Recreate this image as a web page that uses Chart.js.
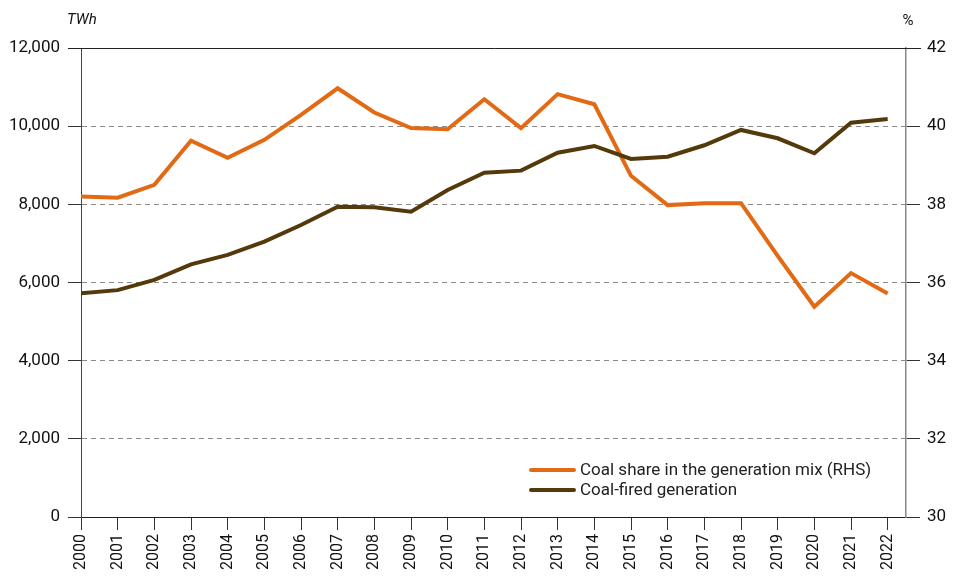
<!DOCTYPE html>
<html>
<head>
<meta charset="utf-8">
<script src="https://cdn.jsdelivr.net/npm/chart.js@4/dist/chart.umd.min.js"></script>
<style>
  html, body { margin: 0; padding: 0; background: #fff; }
  #wrap { position: relative; width: 963px; height: 580px; }
</style>
</head>
<body>
<div id="wrap"><canvas id="chart" width="963" height="580"></canvas></div>
<script>
const YEARS = [2000, 2001, 2002, 2003, 2004, 2005, 2006, 2007, 2008, 2009, 2010, 2011,
               2012, 2013, 2014, 2015, 2016, 2017, 2018, 2019, 2020, 2021, 2022];

// Coal share in the generation mix, % (right axis)
const COAL_SHARE = [38.2, 38.17, 38.5, 39.63, 39.19, 39.65, 40.29, 40.97, 40.35, 39.95, 39.92, 40.69,
                    39.95, 40.82, 40.56, 38.73, 37.98, 38.03, 38.03, 36.68, 35.38, 36.24, 35.72];

// Coal-fired generation, TWh (left axis)
const COAL_GEN = [5725, 5805, 6065, 6466, 6705, 7045, 7472, 7940, 7925, 7813, 8368, 8811,
                  8862, 9322, 9494, 9161, 9220, 9511, 9903, 9690, 9306, 10090, 10185];

const LEFT_TICKS = [0, 2000, 4000, 6000, 8000, 10000, 12000];
const RIGHT_TICKS = [30, 32, 34, 36, 38, 40, 42];

const ORANGE = '#E36A14';
const BROWN = '#543A0A';
const FONT = 'Roboto';

const toPoints = (vals) => vals.map((v, i) => ({ x: YEARS[i], y: v }));

// legend, unit labels and top frame line
const extrasPlugin = {
    id: 'extras',
    afterDraw(chart) {
        const ctx = chart.ctx;
        const area = chart.chartArea;
        ctx.save();

        // solid top line at 12,000
        ctx.strokeStyle = '#222';
        ctx.lineWidth = 1;
        ctx.beginPath();
        ctx.moveTo(68, area.top + 0.5);
        ctx.lineTo(921, area.top + 0.5);
        ctx.stroke();

        // unit labels
        ctx.fillStyle = '#111';
        ctx.font = 'italic 15px ' + FONT;
        ctx.textBaseline = 'middle';
        ctx.textAlign = 'left';
        ctx.fillText('TWh', 67, 20);
        ctx.font = '15px ' + FONT;
        ctx.textAlign = 'center';
        ctx.fillText('%', 908, 21);

        // legend
        ctx.textAlign = 'left';
        ctx.font = '17px ' + FONT;
        chart.data.datasets.forEach((ds, i) => {
            const y = 470 + i * 20;
            ctx.strokeStyle = ds.borderColor;
            ctx.lineWidth = 4;
            ctx.lineCap = 'round';
            ctx.beginPath();
            ctx.moveTo(531, y);
            ctx.lineTo(574, y);
            ctx.stroke();
            ctx.fillStyle = '#222';
            ctx.fillText(ds.label, 580, y + 1);
        });
        ctx.restore();
    }
};

new Chart(document.getElementById('chart'), {
    type: 'line',
    data: {
        datasets: [
            {
                label: 'Coal share in the generation mix (RHS)',
                data: toPoints(COAL_SHARE),
                yAxisID: 'y2',
                borderColor: ORANGE,
                borderWidth: 4,
                pointRadius: 0,
                tension: 0,
                order: 1
            },
            {
                label: 'Coal-fired generation',
                data: toPoints(COAL_GEN),
                yAxisID: 'y',
                borderColor: BROWN,
                borderWidth: 4,
                pointRadius: 0,
                tension: 0,
                order: 0
            }
        ]
    },
    options: {
        responsive: false,
        animation: false,
        layout: { padding: { top: 48, right: 0, left: 0, bottom: 0 } },
        plugins: {
            legend: { display: false },
            tooltip: { enabled: false }
        },
        scales: {
            x: {
                type: 'linear',
                min: 2000,
                max: 2022.5,
                afterBuildTicks: (scale) => { scale.ticks = YEARS.map(v => ({ value: v })); },
                afterFit: (scale) => { scale.height = 63; },
                ticks: {
                    minRotation: 90,
                    maxRotation: 90,
                    padding: 4,
                    color: '#111',
                    font: { family: FONT, size: 16 },
                    callback: (v) => String(v)
                },
                grid: {
                    drawOnChartArea: false,
                    drawTicks: true,
                    tickLength: 13,
                    tickColor: '#333',
                    color: '#333'
                },
                border: { display: true, color: '#222', width: 1 }
            },
            y: {
                position: 'left',
                min: 0,
                max: 12000,
                afterBuildTicks: (scale) => { scale.ticks = LEFT_TICKS.map(v => ({ value: v })); },
                afterFit: (scale) => { scale.width = 81; },
                ticks: {
                    padding: 8,
                    color: '#111',
                    font: { family: FONT, size: 17 },
                    callback: (v) => v.toLocaleString('en-US')
                },
                grid: {
                    color: (c) => (c.tick && c.tick.value === 0) ? 'rgba(0,0,0,0)' : '#8a8a8a',
                    tickColor: '#333',
                    tickLength: 13,
                    lineWidth: 1
                },
                border: { display: true, color: '#444', width: 1, dash: [5, 4] }
            },
            y2: {
                position: 'right',
                min: 30,
                max: 42,
                afterBuildTicks: (scale) => { scale.ticks = RIGHT_TICKS.map(v => ({ value: v })); },
                afterFit: (scale) => { scale.width = 57; },
                ticks: {
                    padding: 7,
                    color: '#111',
                    font: { family: FONT, size: 17 },
                    callback: (v) => String(v)
                },
                grid: {
                    drawOnChartArea: false,
                    tickColor: '#333',
                    tickLength: 14
                },
                border: { display: true, color: '#888', width: 1.5 }
            }
        }
    },
    plugins: [extrasPlugin]
});
</script>
</body>
</html>
